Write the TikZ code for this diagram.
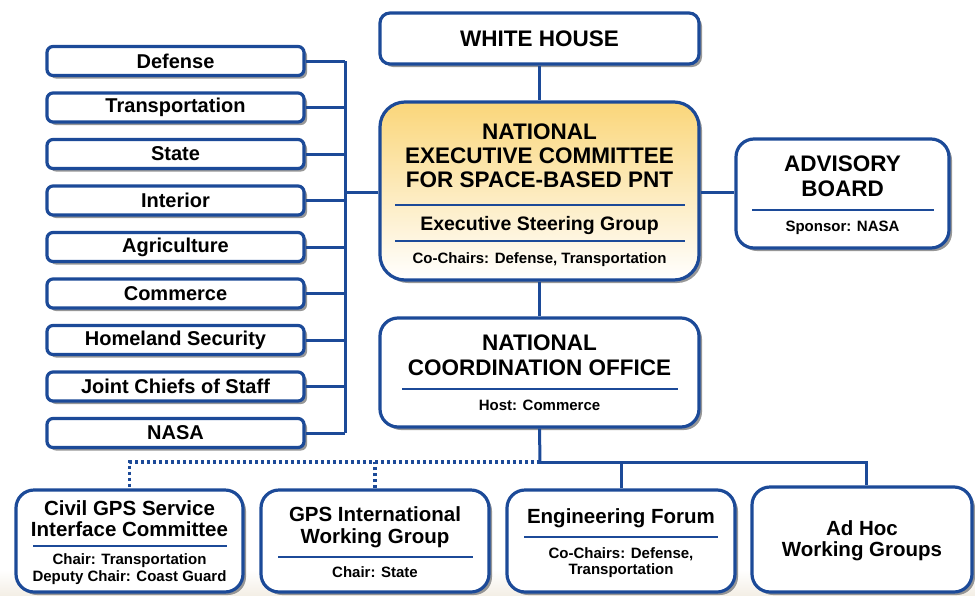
\documentclass[tikz,border=0pt]{standalone}
\usepackage{fontspec}
\setmainfont{Liberation Sans}
\usetikzlibrary{shadows}
\definecolor{bblue}{RGB}{28,74,152}
\definecolor{goldtop}{RGB}{250,214,122}
\definecolor{shadowgray}{RGB}{140,140,140}
\definecolor{beige}{RGB}{244,239,230}
\begin{document}
\begin{tikzpicture}[x=1pt,y=-1pt,
  box/.style={draw=bblue, line width=3.2pt, fill=white, rounded corners=#1, inner sep=0pt,
    drop shadow={shadow xshift=3pt, shadow yshift=-3pt, fill=shadowgray, opacity=0.9}},
  box/.default=8pt,
  conn/.style={draw=bblue, line width=3pt},
  dotconn/.style={conn, line width=3.2pt, dash pattern=on 3pt off 3pt},
  sep/.style={draw=bblue, line width=1.6pt},
  dept/.style={box=6pt, minimum width=257pt, minimum height=29pt, font=\fontsize{20}{24}\selectfont\bfseries},
  ttl/.style={anchor=base, inner sep=0pt, font=\fontsize{22.5}{25}\selectfont\bfseries},
  sub/.style={anchor=base, inner sep=0pt, font=\fontsize{15}{18}\selectfont\bfseries},
  mid/.style={anchor=base, inner sep=0pt, font=\fontsize{20.5}{24}\selectfont\bfseries},
]
\useasboundingbox (0,0) rectangle (975,595);
\shade[top color=white, bottom color=beige] (0,570) rectangle (975,595);

% ---------- top boxes ----------
\node[box=10pt, minimum width=319pt, minimum height=51pt, font=\fontsize{22.5}{25}\selectfont\bfseries] (wh) at (539.5,38.5) {WHITE HOUSE};
\node[box=25pt, minimum width=319pt, minimum height=178pt, top color=goldtop, bottom color=white] (nec) at (539.5,191) {};
\node[ttl] (nec1) at (539.5,139) {NATIONAL};
\node[ttl] (nec2) at (539.5,163.5) {EXECUTIVE COMMITTEE};
\node[ttl] (nec3) at (539.5,187.5) {FOR SPACE-BASED PNT};
\draw[sep] (395,205) -- (685,205);
\node[anchor=base, inner sep=0pt, font=\fontsize{19.5}{22}\selectfont\bfseries] (esg) at (539.5,230) {Executive Steering Group};
\draw[sep] (395,241) -- (685,241);
\node[sub] (necc) at (539.5,263.5) {Co-Chairs: Defense, Transportation};

\node[box=18pt, minimum width=213pt, minimum height=109pt] (adv) at (842.5,193.5) {};
\node[ttl] (adv1) at (842.5,171.5) {ADVISORY};
\node[ttl] (adv2) at (842.5,196) {BOARD};
\draw[sep] (752,210) -- (934,210);
\node[sub] (adv3) at (842.5,231.5) {Sponsor: NASA};

\node[box=18pt, minimum width=319pt, minimum height=109pt] (nco) at (539.5,372.5) {};
\node[ttl] (nco1) at (539.5,350) {NATIONAL};
\node[ttl] (nco2) at (539.5,375) {COORDINATION OFFICE};
\draw[sep] (402,389) -- (678,389);
\node[sub] (nco3) at (539.5,410) {Host: Commerce};

% ---------- departments ----------
\node[dept] (d1) at (175.5,61) {Defense};
\node[dept] (d2) at (175.5,107.5) {Transportation};
\node[dept] (d3) at (175.5,154) {State};
\node[dept] (d4) at (175.5,200.5) {Interior};
\node[dept] (d5) at (175.5,247) {Agriculture};
\node[dept] (d6) at (175.5,293.5) {Commerce};
\node[dept] (d7) at (175.5,340) {Homeland Security};
\node[dept] (d8) at (175.5,386.5) {Joint Chiefs of Staff};
\node[dept] (d9) at (175.5,433) {NASA};

% ---------- bottom boxes ----------
\node[box=18pt, minimum width=227pt, minimum height=102pt] (civ) at (129.5,541) {};
\node[mid] (civ1) at (129.5,515) {Civil GPS Service};
\node[mid] (civ2) at (129.5,536.5) {Interface Committee};
\draw[sep] (33,546) -- (227,546);
\node[sub] (civ3) at (129.5,564) {Chair: Transportation};
\node[sub] (civ4) at (129.5,581.5) {Deputy Chair: Coast Guard};

\node[box=18pt, minimum width=228pt, minimum height=102pt] (gps) at (375,541) {};
\node[mid] (gps1) at (375,521.5) {GPS International};
\node[mid] (gps2) at (375,543) {Working Group};
\draw[sep] (278,557) -- (473,557);
\node[sub] (gps3) at (375,577) {Chair: State};

\node[box=18pt, minimum width=228pt, minimum height=102pt] (eng) at (621,541) {};
\node[mid] (eng1) at (621,523) {Engineering Forum};
\draw[sep] (524,537) -- (718,537);
\node[sub] (eng2) at (621,558) {Co-Chairs: Defense,};
\node[sub] (eng3) at (621,574) {Transportation};

\node[box=18pt, minimum width=220pt, minimum height=105pt] (adh) at (862,539.5) {};
\node[mid] (adh1) at (862,535) {Ad Hoc};
\node[mid] (adh2) at (862,556) {Working Groups};

% ---------- connectors ----------
\coordinate (bt) at (345,61);
\coordinate (bb) at (345,433);
\coordinate (bm) at (345,192);
\coordinate (j) at (540,462);
\coordinate (ja) at (866,462);

\draw[conn] (bt) -- (bb);
\foreach \d in {d1,d2,d3,d4,d5,d6,d7,d8,d9}{
  \draw[conn] (\d.east) -- (bt |- \d.east);
}
\draw[conn] (bm) -- (nec.west |- bm);
\draw[conn] (wh.south) -- (nec.north);
\draw[conn] (nec.south) -- (nco.north);
\draw[conn] (nec.east |- bm) -- (adv.west |- bm);
\draw[conn] (nco.south) -- (j);
\draw[conn] (j) -- (ja) -- (ja |- adh.north);
\draw[conn] (eng.north) -- (eng.north |- j);
\draw[dotconn] (j) -| (civ.north);
\draw[dotconn] (gps.north) -- (gps.north |- j);
\end{tikzpicture}
\end{document}
